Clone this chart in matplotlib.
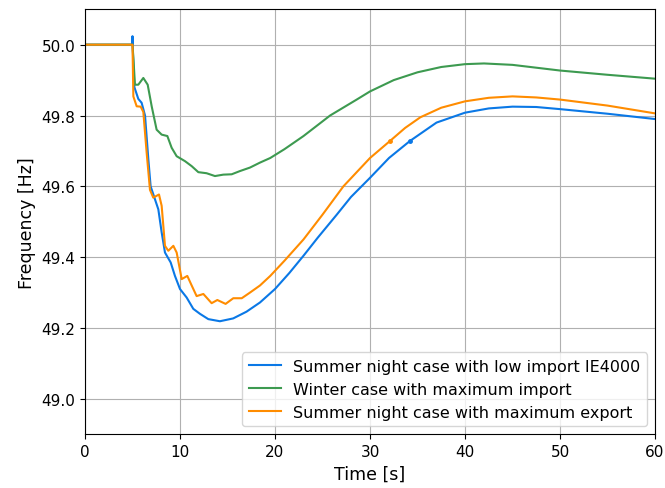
import matplotlib.pyplot as plt

# frequency response after the event at t = 5 s
t_blue = [0, 4.97, 5.0, 5.04, 5.2, 5.61, 5.96, 6.32, 6.67, 6.91, 7.37, 7.72, 8.07, 8.42,
          9.02, 9.47, 10.0, 10.7, 11.4, 12.1, 12.98, 14.2, 15.6, 17.0, 18.42, 20, 21.5,
          23, 24.5, 26.5, 28, 30, 32, 34.2, 37, 40, 42.5, 45, 47.5, 50, 55, 60]
f_blue = [50.0, 50.0, 50.024, 49.98, 49.88, 49.847, 49.836, 49.80, 49.676, 49.60,
          49.563, 49.535, 49.47, 49.413, 49.385, 49.347, 49.31, 49.286, 49.254, 49.24,
          49.225, 49.219, 49.227, 49.246, 49.272, 49.31, 49.355, 49.404, 49.455, 49.52,
          49.57, 49.624, 49.68, 49.728, 49.78, 49.808, 49.82, 49.825, 49.824, 49.818,
          49.805, 49.79]

t_green = [0, 5.0, 5.1, 5.26, 5.61, 6.14, 6.6, 7.02, 7.54, 8.07, 8.67, 9.12, 9.65, 10.53,
           11.23, 11.93, 12.8, 13.68, 14.56, 15.44, 16.3, 17.37, 18.42, 19.5, 21, 23,
           25.8, 28.6, 30, 32.5, 35, 37.5, 40, 42, 45, 47.5, 50, 55, 60]
f_green = [50.0, 50.0, 49.96, 49.887, 49.887, 49.906, 49.887, 49.826, 49.76, 49.746,
           49.742, 49.709, 49.685, 49.671, 49.657, 49.64, 49.637, 49.629, 49.633,
           49.634, 49.643, 49.653, 49.667, 49.68, 49.705, 49.742, 49.80, 49.845, 49.868,
           49.90, 49.922, 49.937, 49.945, 49.947, 49.943, 49.935, 49.927, 49.915, 49.904]

t_orange = [0, 5.0, 5.09, 5.44, 5.86, 6.14, 6.49, 6.84, 7.19, 7.79, 8.07, 8.42, 8.77, 9.3,
            9.65, 10.18, 10.77, 11.23, 11.75, 12.46, 13.33, 13.93, 14.8, 15.61, 16.5,
            17.37, 18.42, 19.5, 21, 23, 25, 27.2, 30, 32.1, 33.7, 35.3, 37.5, 40, 42.5,
            45, 47.5, 50, 55, 60]
f_orange = [50.0, 50.0, 49.854, 49.826, 49.825, 49.81, 49.695, 49.59, 49.568, 49.577,
            49.545, 49.432, 49.418, 49.432, 49.413, 49.338, 49.347, 49.32, 49.29, 49.296,
            49.27, 49.279, 49.268, 49.284, 49.284, 49.30, 49.32, 49.347, 49.39, 49.45,
            49.52, 49.60, 49.68, 49.728, 49.765, 49.795, 49.822, 49.84, 49.85, 49.854,
            49.851, 49.845, 49.828, 49.806]

# sample index carrying the small dot on each curve
blue_mark = t_blue.index(34.2)
orange_mark = t_orange.index(32.1)

labels = ['Summer night case with low import IE4000',
          'Winter case with maximum import',
          'Summer night case with maximum export']

fig = plt.figure(figsize=(6.65, 4.89), dpi=100)
ax = fig.add_axes([0.1278, 0.11, 0.8572, 0.869])
ax.plot(t_blue, f_blue, color='#0a78e6', lw=1.5, label=labels[0])
ax.plot(t_green, f_green, color='#3d9a50', lw=1.5, label=labels[1])
ax.plot(t_orange, f_orange, color='#ff8c00', lw=1.5, label=labels[2])
ax.plot([t_blue[blue_mark]], [f_blue[blue_mark]], 'o', color='#0a78e6', ms=2.5)
ax.plot([t_orange[orange_mark]], [f_orange[orange_mark]], 'o', color='#ff8c00', ms=2.5)
ax.set_xlim(0, 60)
ax.set_ylim(48.9, 50.1)
ax.set_yticks([49.0, 49.2, 49.4, 49.6, 49.8, 50.0])
ax.tick_params(labelsize=11)
ax.set_xlabel('Time [s]', fontsize=12.5)
ax.set_ylabel('Frequency [Hz]', fontsize=12.5)
ax.grid()
ax.legend(loc='lower right', fontsize=11.5)
fig.savefig('out.png')
